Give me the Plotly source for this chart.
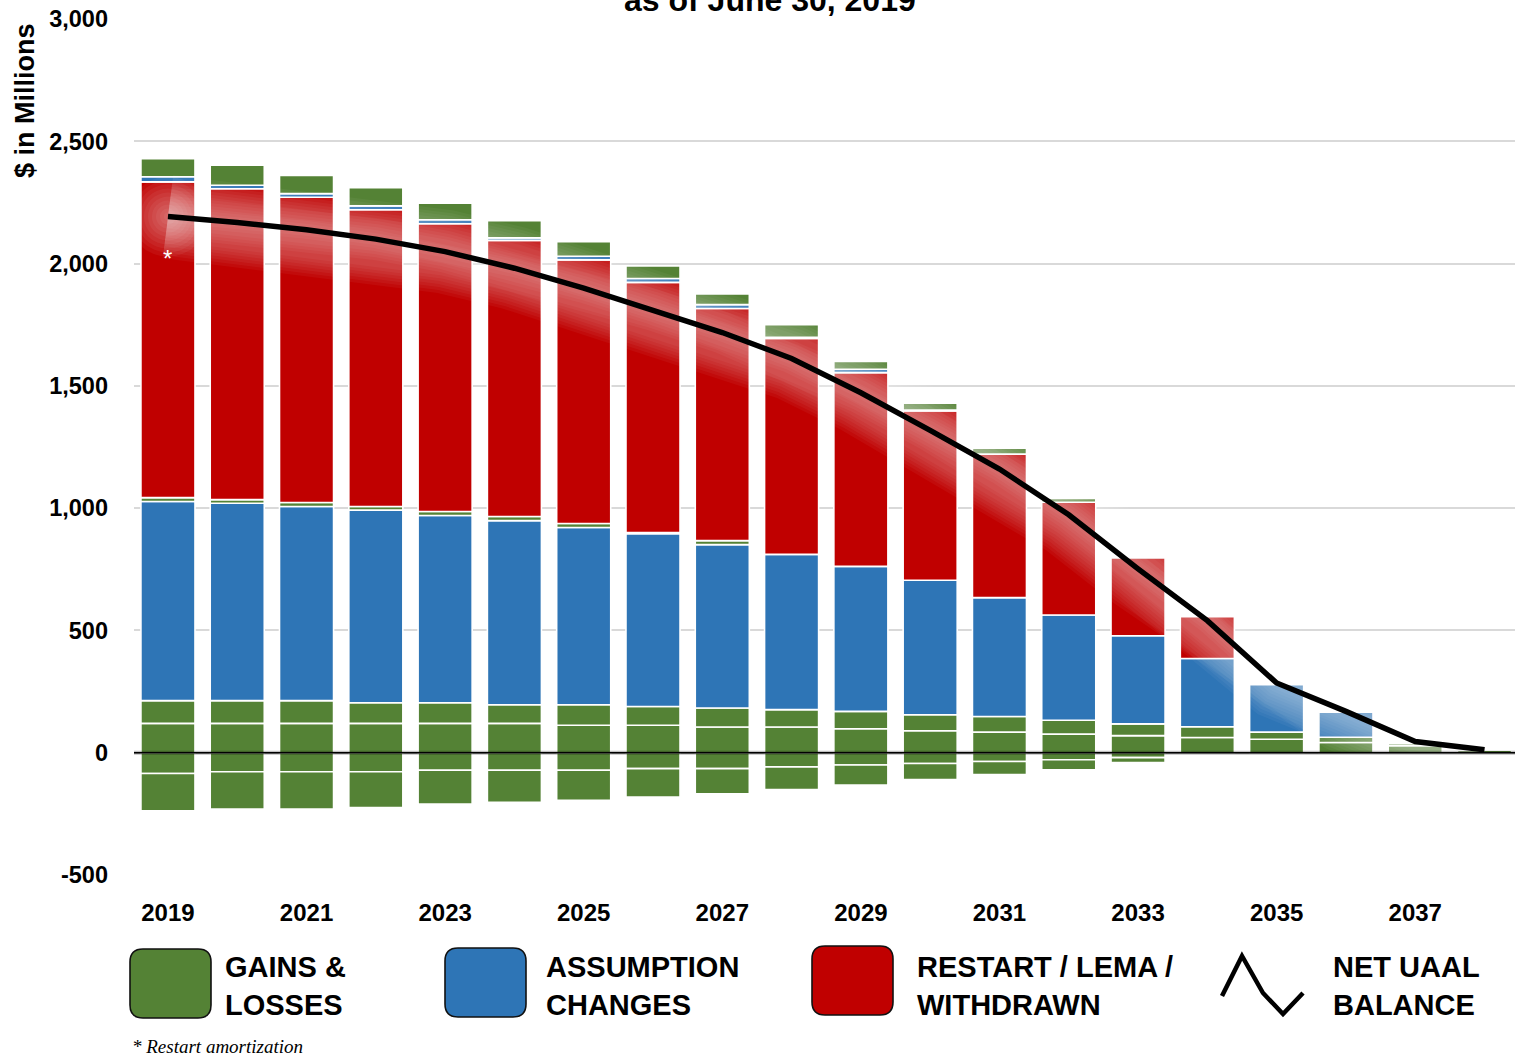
import plotly.graph_objects as go

# ---------------- data ----------------
years = list(range(2019, 2039))
tick_years = list(range(2019, 2038, 2))

gains_pos_1 = [120, 120, 120, 120, 120, 120, 112, 112, 105, 105, 98, 90, 84, 76, 70, 62, 55, 42, 29, 10]
gains_pos_2 = [93, 93, 93, 84, 84, 76, 84, 77, 78, 71, 71, 65, 64, 57, 48, 44, 29, 21, 9, 0]
assumption_1 = [814, 807, 794, 788, 766, 753, 725, 706, 668, 635, 593, 550, 486, 430, 360, 279, 194, 103, 0, 0]
gains_pos_3 = [16, 15, 16, 15, 16, 17, 16, 5, 16, 0, 0, 0, 0, 0, 0, 0, 0, 0, 0, 0]
restart = [1291, 1271, 1248, 1213, 1177, 1129, 1078, 1023, 949, 883, 792, 692, 587, 461, 318, 171, 0, 0, 0, 0]
assumption_2 = [21, 14, 15, 16, 16, 10, 15, 16, 16, 5, 14, 4, 0, 0, 0, 0, 0, 0, 0, 0]
gains_pos_4 = [74, 82, 74, 74, 68, 70, 59, 51, 44, 51, 32, 28, 24, 16, 0, 0, 0, 0, 0, 0]
gains_neg_1 = [-85, -78, -78, -78, -72, -72, -72, -65, -65, -58, -50, -44, -36, -29, -20, 0, 0, 0, 0, 0]
gains_neg_2 = [-153, -152, -152, -146, -138, -131, -123, -116, -103, -93, -82, -66, -53, -41, -20, 0, 0, 0, 0, 0]
net_uaal = [2192, 2168, 2138, 2100, 2049, 1981, 1900, 1811, 1718, 1612, 1472, 1318, 1160, 973, 752, 540, 285, 169, 46, 12]

legend_labels = ["GAINS &<br>LOSSES", "ASSUMPTION<br>CHANGES", "RESTART / LEMA /<br>WITHDRAWN", "NET UAAL<br>BALANCE"]
title_text = "as of June 30, 2019"
footnote = "* Restart amortization"
y_title = "$ in Millions"

# ---------------- styling ----------------
GREEN = "#548235"
BLUE = "#2E75B6"
RED = "#C00000"
NARROW = "Liberation Sans Narrow, Arial Narrow, Liberation Sans, Arial, sans-serif"
W, H = 1515, 1057
ML, MT, MB = 134, 19, 182
PW, PH = W - ML, H - MT - MB


def px(x):
    return (x - ML) / PW


def py(y):
    return (H - MB - y) / PH


def nz(vals):
    return [v if v != 0 else None for v in vals]


fig = go.Figure()

segments = [
    (gains_pos_1, GREEN), (gains_neg_1, GREEN), (gains_pos_2, GREEN), (gains_neg_2, GREEN),
    (assumption_1, BLUE), (gains_pos_3, GREEN), (restart, RED), (assumption_2, BLUE), (gains_pos_4, GREEN),
]
for vals, col in segments:
    fig.add_trace(go.Bar(
        x=years, y=nz(vals), width=0.78,
        marker=dict(color=col, line=dict(color="white", width=1.6)),
        showlegend=False, hoverinfo="skip",
    ))

# soft white glow around the net line (many faint layers)
for wdt in range(84, 4, -6):
    fig.add_trace(go.Scatter(
        x=years, y=net_uaal, mode="lines",
        line=dict(color="rgba(255,255,255,0.045)", width=wdt),
        showlegend=False, hoverinfo="skip",
    ))
# round glow at the start of the line
for size in range(80, 4, -8):
    fig.add_trace(go.Scatter(
        x=[years[0]], y=[net_uaal[0]], mode="markers",
        marker=dict(color="rgba(255,255,255,0.05)", size=size, line=dict(width=0)),
        showlegend=False, hoverinfo="skip",
    ))

fig.add_trace(go.Scatter(
    x=years, y=net_uaal, mode="lines",
    line=dict(color="black", width=5.5),
    showlegend=False,
))

shapes = []
# zero line
shapes.append(dict(type="line", xref="paper", yref="y", x0=0, x1=1, y0=0, y1=0,
                   line=dict(color="rgba(0,0,0,0.25)", width=4), layer="above"))
shapes.append(dict(type="line", xref="paper", yref="y", x0=0, x1=1, y0=0, y1=0,
                   line=dict(color="black", width=1.6), layer="above"))


def rounded_box(x0, y0, x1, y1, r, color):
    X0, X1 = px(x0), px(x1)
    Y0, Y1 = py(y0), py(y1)
    rx, ry = r / PW, r / PH
    path = (f"M {X0+rx},{Y0} L {X1-rx},{Y0} Q {X1},{Y0} {X1},{Y0-ry} "
            f"L {X1},{Y1+ry} Q {X1},{Y1} {X1-rx},{Y1} L {X0+rx},{Y1} "
            f"Q {X0},{Y1} {X0},{Y1+ry} L {X0},{Y0-ry} Q {X0},{Y0} {X0+rx},{Y0} Z")
    return dict(type="path", xref="paper", yref="paper", path=path,
                fillcolor=color, line=dict(color="#111111", width=1.6), layer="above")


shapes.append(rounded_box(130, 949, 211, 1018, 13, GREEN))
shapes.append(rounded_box(445, 948, 526, 1017, 13, BLUE))
shapes.append(rounded_box(812, 946, 893, 1015, 13, RED))
icon = [(1222, 996), (1242, 956), (1263, 993), (1283, 1014), (1303, 993)]
icon_path = "M " + " L ".join(f"{px(a)},{py(b)}" for a, b in icon)
shapes.append(dict(type="path", xref="paper", yref="paper", path=icon_path,
                   line=dict(color="black", width=4.5), layer="above"))

annotations = []
for (xx, label) in zip([223, 544, 915, 1331], legend_labels):
    annotations.append(dict(
        xref="paper", yref="paper", x=px(xx), y=py(986), xanchor="left", yanchor="middle",
        text=f"<b>{label}</b>", showarrow=False, align="left",
        font=dict(family=NARROW, size=29, color="black"),
    ))

annotations.append(dict(
    xref="paper", yref="paper", x=px(130), y=py(1046), xanchor="left", yanchor="middle",
    text=f"<i>{footnote}</i>", showarrow=False,
    font=dict(family="Liberation Serif, Times New Roman, serif", size=19, color="black"),
))
annotations.append(dict(
    xref="paper", yref="paper", x=px(25), y=py(101), xanchor="center", yanchor="middle",
    text=f"<b>{y_title}</b>", textangle=-90, showarrow=False,
    font=dict(family=NARROW, size=27, color="black"),
))
annotations.append(dict(
    xref="paper", yref="paper", x=px(770), y=py(20), xanchor="center", yanchor="bottom",
    text=f"<b>{title_text}</b>", showarrow=False,
    font=dict(family="Liberation Sans, Arial, sans-serif", size=32, color="black"),
))
annotations.append(dict(
    xref="x", yref="y", x=years[0], y=2020, text="*", showarrow=False,
    font=dict(family="Liberation Sans, Arial, sans-serif", size=24, color="white"),
))

fig.update_layout(
    width=W, height=H,
    margin=dict(l=ML, r=0, t=MT, b=MB, autoexpand=False),
    paper_bgcolor="white", plot_bgcolor="white",
    barmode="relative", bargap=0.22,
    shapes=shapes, annotations=annotations,
    showlegend=False,
    xaxis=dict(
        range=[2018.51, 2038.44], tickmode="array", tickvals=tick_years,
        ticktext=[f"<b>{t}</b>" for t in tick_years],
        showgrid=False, zeroline=False, showline=False, ticks="",
        tickfont=dict(family=NARROW, size=24, color="black"),
        ticklabelstandoff=21,
    ),
    yaxis=dict(
        range=[-500, 3000], tickmode="array", tickvals=list(range(-500, 3001, 500)),
        ticktext=[f"<b>{v:,}</b>" for v in range(-500, 3001, 500)],
        showgrid=True, gridcolor="#D9D9D9", gridwidth=1.5,
        zeroline=False, showline=False, ticks="",
        tickfont=dict(family=NARROW, size=23.5, color="black"),
        ticklabelstandoff=25,
    ),
)

fig.write_html(
    "out.html",
    config={"displayModeBar": False},
    post_script="document.body.style.margin='0';document.body.style.overflow='hidden';",
)
